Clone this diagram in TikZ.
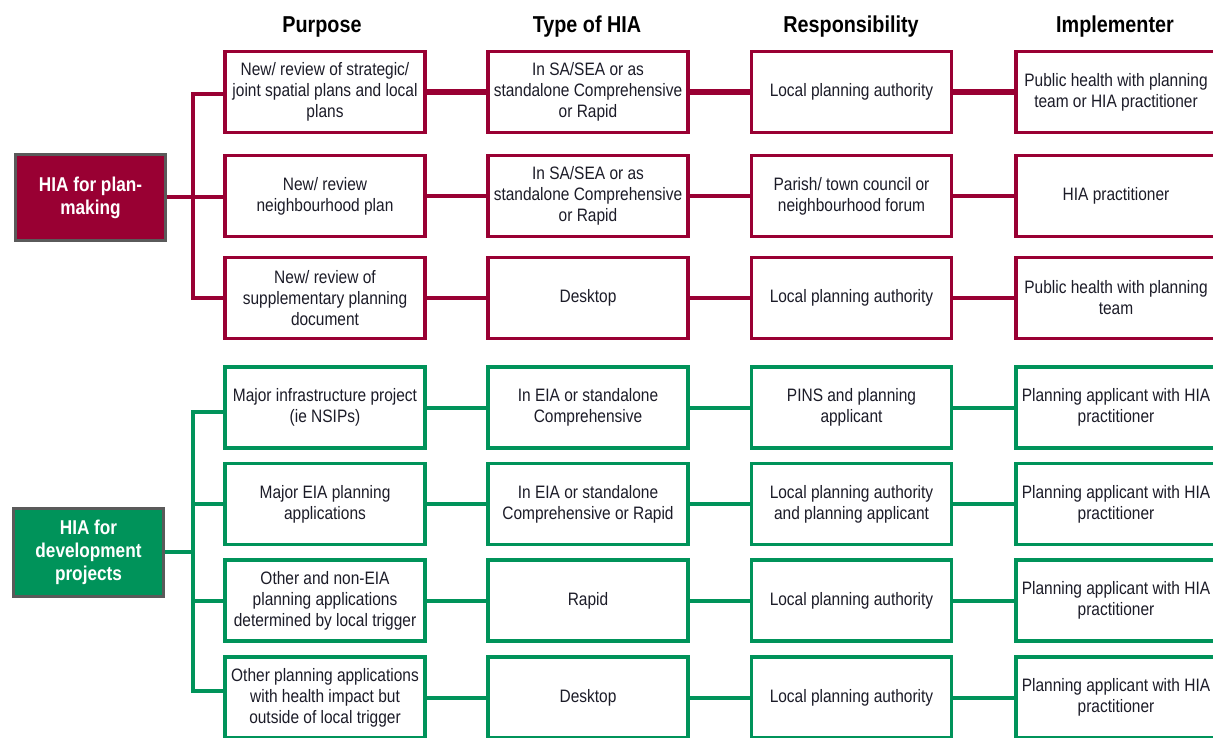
\documentclass[tikz,border=0pt]{standalone}
\usepackage{fontspec}
\setmainfont{Liberation Sans}[FakeStretch=0.86]
\definecolor{hred}{HTML}{990033}
\definecolor{hgreen}{HTML}{00935A}
\definecolor{hgray}{HTML}{5A5A5A}
\definecolor{htext}{HTML}{1C1C28}
\begin{document}
\begin{tikzpicture}[x=1pt,y=-1pt,
  box/.style={draw, line width=3.6pt, fill=white, minimum width=200pt, minimum height=81pt,
    inner sep=0pt, align=center, text=htext, font=\fontsize{18}{21}\selectfont},
  redbox/.style={box, draw=hred},
  greenbox/.style={box, draw=hgreen},
  head/.style={font=\fontsize{23}{26}\selectfont\bfseries, text=black},
  leftbox/.style={draw=hgray, line width=3pt, minimum width=150pt, inner sep=0pt, align=center,
    text=white, font=\fontsize{20}{23}\selectfont\bfseries},
  redline/.style={draw=hred, line width=4pt, line join=miter},
  greenline/.style={draw=hgreen, line width=4pt, line join=miter}]
\clip (0,0) rectangle (1213,738);
\fill[white] (0,0) rectangle (1213,738);

% headers
\node[head] (h1) at (322,27) {Purpose};
\node[head] (h2) at (587,27) {Type of HIA};
\node[head] (h3) at (851,27) {Responsibility};
\node[head] (h4) at (1115,27) {Implementer};

% left boxes
\node[leftbox, fill=hred, minimum height=86pt] (L1) at (90.5,197.5) {HIA for plan-\\making};
\node[leftbox, fill=hgreen, minimum height=88pt] (L2) at (88.5,552.5) {HIA for\\development\\projects};

% red rows
\node[redbox] (r1c1) at (325,92) {New/ review of strategic/\\joint spatial plans and local\\plans};
\node[redbox] (r1c2) at (588,92) {In SA/SEA or as\\standalone Comprehensive\\or Rapid};
\node[redbox] (r1c3) at (851.5,92) {Local planning authority};
\node[redbox] (r1c4) at (1116,92) {Public health with planning\\team or HIA practitioner};

\node[redbox] (r2c1) at (325,196) {New/ review\\neighbourhood plan};
\node[redbox] (r2c2) at (588,196) {In SA/SEA or as\\standalone Comprehensive\\or Rapid};
\node[redbox] (r2c3) at (851.5,196) {Parish/ town council or\\neighbourhood forum};
\node[redbox] (r2c4) at (1116,196) {HIA practitioner};

\node[redbox] (r3c1) at (325,298) {New/ review of\\supplementary planning\\document};
\node[redbox] (r3c2) at (588,298) {Desktop};
\node[redbox] (r3c3) at (851.5,298) {Local planning authority};
\node[redbox] (r3c4) at (1116,298) {Public health with planning\\team};

% green rows
\node[greenbox] (r4c1) at (325,407.5) {Major infrastructure project\\(ie NSIPs)};
\node[greenbox] (r4c2) at (588,407.5) {In EIA or standalone\\Comprehensive};
\node[greenbox] (r4c3) at (851.5,407.5) {PINS and planning\\applicant};
\node[greenbox] (r4c4) at (1116,407.5) {Planning applicant with HIA\\practitioner};

\node[greenbox] (r5c1) at (325,504) {Major EIA planning\\applications};
\node[greenbox] (r5c2) at (588,504) {In EIA or standalone\\Comprehensive or Rapid};
\node[greenbox] (r5c3) at (851.5,504) {Local planning authority\\and planning applicant};
\node[greenbox] (r5c4) at (1116,504) {Planning applicant with HIA\\practitioner};

\node[greenbox] (r6c1) at (325,600.5) {Other and non-EIA\\planning applications\\determined by local trigger};
\node[greenbox] (r6c2) at (588,600.5) {Rapid};
\node[greenbox] (r6c3) at (851.5,600.5) {Local planning authority};
\node[greenbox] (r6c4) at (1116,600.5) {Planning applicant with HIA\\practitioner};

\node[greenbox] (r7c1) at (325,697.5) {Other planning applications\\with health impact but\\outside of local trigger};
\node[greenbox] (r7c2) at (588,697.5) {Desktop};
\node[greenbox] (r7c3) at (851.5,697.5) {Local planning authority};
\node[greenbox] (r7c4) at (1116,697.5) {Planning applicant with HIA\\practitioner};

% trunk coordinates
\coordinate (rt1) at (193,94);
\coordinate (rt2) at (193,197);
\coordinate (rt3) at (193,298);
\coordinate (gt4) at (193,412);
\coordinate (gt5) at (193,504);
\coordinate (gtL) at (193,552);
\coordinate (gt6) at (193,600.5);
\coordinate (gt7) at (193,691);

% red connectors
\draw[redline] (r1c1.west |- rt1) -- (rt1) -- (rt3) -- (r3c1.west |- rt3);
\draw[redline] (L1.east |- rt2) -- (rt2) -- (r2c1.west |- rt2);
\foreach \r in {1}{
  \draw[redline, line width=5.5pt] (r\r c1.east) -- (r\r c2.west);
  \draw[redline, line width=5.5pt] (r\r c2.east) -- (r\r c3.west);
  \draw[redline, line width=5.5pt] (r\r c3.east) -- (r\r c4.west);
}
\foreach \r in {2,3}{
  \draw[redline] (r\r c1.east) -- (r\r c2.west);
  \draw[redline] (r\r c2.east) -- (r\r c3.west);
  \draw[redline] (r\r c3.east) -- (r\r c4.west);
}
% green connectors
\draw[greenline] (r4c1.west |- gt4) -- (gt4) -- (gt7) -- (r7c1.west |- gt7);
\draw[greenline] (L2.east |- gtL) -- (gtL);
\draw[greenline] (gt5) -- (r5c1.west);
\draw[greenline] (gt6) -- (r6c1.west);
\foreach \r in {4,5,6,7}{
  \draw[greenline] (r\r c1.east) -- (r\r c2.west);
  \draw[greenline] (r\r c2.east) -- (r\r c3.west);
  \draw[greenline] (r\r c3.east) -- (r\r c4.west);
}
\end{tikzpicture}
\end{document}
